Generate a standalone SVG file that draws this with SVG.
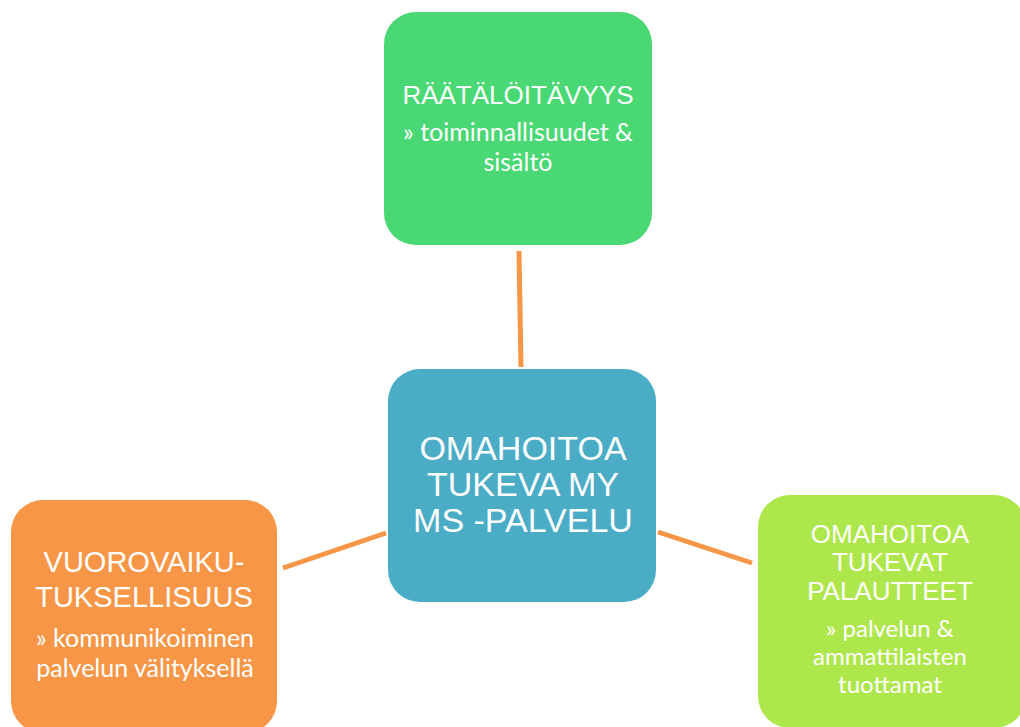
<svg xmlns="http://www.w3.org/2000/svg" width="1020" height="727" viewBox="0 0 1020 727">
<style>
.t{font-family:"Liberation Sans",Arial,sans-serif;fill:#fff;text-anchor:middle}
.s{font-family:Lato,"Noto Sans",sans-serif;fill:#fff;text-anchor:middle;font-size:25px}
.c{stroke:#F79646;stroke-width:5;fill:none}
</style>
<rect width="1020" height="727" fill="#fff"/>
<g id="connectors">
<line class="c" x1="519" y1="251" x2="521" y2="367"/>
<line class="c" x1="283" y1="568" x2="386" y2="533"/>
<line class="c" x1="658" y1="532" x2="752" y2="563"/>
</g>
<g id="top">
<rect x="384" y="12" width="268" height="233" rx="32" fill="#4AD874"/>
<text class="t" x="518" y="104" font-size="26">RÄÄTÄLÖITÄVYYS</text>
<text class="s" x="518" y="141">» toiminnallisuudet &amp;</text>
<text class="s" x="518" y="171">sisältö</text>
</g>
<g id="center">
<rect x="388" y="369" width="268" height="233" rx="32" fill="#4BACC6"/>
<text class="t" x="523" y="460" font-size="34">OMAHOITOA</text>
<text class="t" x="523" y="496" font-size="34">TUKEVA MY</text>
<text class="t" x="523" y="532" font-size="34">MS -PALVELU</text>
</g>
<g id="left">
<rect x="11" y="500" width="266" height="233" rx="32" fill="#F79646"/>
<text class="t" x="144" y="572" font-size="29">VUOROVAIKU-</text>
<text class="t" x="144" y="607" font-size="29">TUKSELLISUUS</text>
<text class="s" x="145" y="647">» kommunikoiminen</text>
<text class="s" x="145" y="677">palvelun välityksellä</text>
</g>
<g id="right">
<rect x="758" y="495" width="268" height="233" rx="32" fill="#AEE74B"/>
<text class="t" x="890" y="543" font-size="26">OMAHOITOA</text>
<text class="t" x="890" y="571" font-size="26">TUKEVAT</text>
<text class="t" x="890" y="600" font-size="26">PALAUTTEET</text>
<text class="s" x="890" y="637" font-size="24" style="font-size:24px">» palvelun &amp;</text>
<text class="s" x="890" y="665" style="font-size:24px">ammattilaisten</text>
<text class="s" x="890" y="693" style="font-size:24px">tuottamat</text>
</g>
</svg>
